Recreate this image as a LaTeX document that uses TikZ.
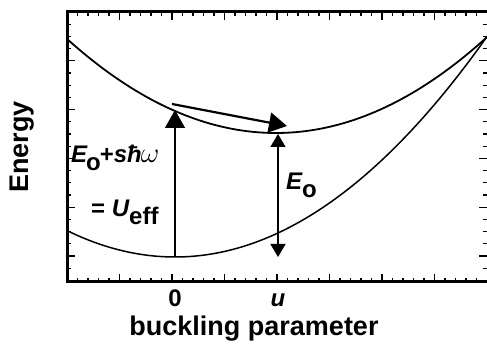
\documentclass[tikz,border=0pt]{standalone}
\usepackage{fontspec}
\setmainfont{Liberation Sans}
\usetikzlibrary{arrows.meta}
\begin{document}
\begin{tikzpicture}[x=1pt,y=-1pt,
  lab/.style={inner sep=0pt, font=\bfseries\fontsize{27}{27}\selectfont},
  ticklab/.style={inner sep=0pt, font=\bfseries\fontsize{24}{24}\selectfont},
  sym/.style={inner sep=0pt, font=\bfseries\fontsize{24}{24}\selectfont},
  tickl/.style={line width=1.1pt},
  curve/.style={line width=1.8pt},
  bigtip/.style={-{Triangle[width=20pt,length=18pt]}},
  dbltip/.style={{Triangle[width=15pt,length=13pt]}-{Triangle[width=15pt,length=13pt]}}]
\useasboundingbox (0,0) rectangle (487,347);
% ticks bottom and top
\foreach \i in {1,...,39}{
  \pgfmathsetmacro{\xx}{67+10.5*\i}
  \pgfmathsetmacro{\tl}{ifthenelse(mod(\i,5)==0,8,4)}
  \draw[tickl] (\xx,282) -- ++(0,-\tl);
  \draw[tickl] (\xx,12) -- ++(0,\tl);
}
% ticks left and right
\foreach \j in {1,...,21}{
  \pgfmathsetmacro{\yy}{12+12.2*\j}
  \pgfmathsetmacro{\tl}{ifthenelse(mod(\j,4)==0,8,4)}
  \draw[tickl] (67,\yy) -- ++(\tl,0);
  \draw[tickl] (487,\yy) -- ++(-\tl,0);
}
% frame
\draw[line width=3pt] (67,12) rectangle (488,282);
% curves
\draw[curve] plot[domain=67:487, samples=80] (\x, {133-95*((\x-276)/210)^2});
\draw[line width=1.5pt] plot[domain=67:487, samples=80] (\x, {257-219*((\x-175)/311)^2});
% arrows
\coordinate (g0) at (175,257);
\coordinate (e0) at (175,110);
\coordinate (s0) at (172,104);
\coordinate (s1) at (287,126);
\coordinate (m0) at (278,134);
\coordinate (m1) at (278,257);
\draw[line width=1.4pt, bigtip] (g0) -- (e0);
\draw[line width=2.2pt, bigtip] (s0) -- (s1);
\draw[line width=1.4pt, dbltip] (m0) -- (m1);
% labels
\node[lab, rotate=90] (ylab) at (22,147) {Energy};
\node[lab] (xlab) at (254,329) {buckling parameter};
\node[ticklab] (t0) at (175,298) {0};
\node[ticklab] (tu) at (278,300) {\itshape u};
\node[sym, anchor=base west] (lhs) at (71,163) {\itshape E\kern-1pt\upshape\raisebox{-0.3em}{o}\kern-1pt+\itshape sħ\kern-1pt\scalebox{1.15}{$\omega$}};
\node[sym, anchor=base west] (rhs) at (91,217) {= \itshape U\upshape\raisebox{-0.3em}{eff}};
\node[sym, anchor=base west] (eo) at (286,190) {\itshape E\upshape\raisebox{-0.3em}{o}};
\end{tikzpicture}
\end{document}
